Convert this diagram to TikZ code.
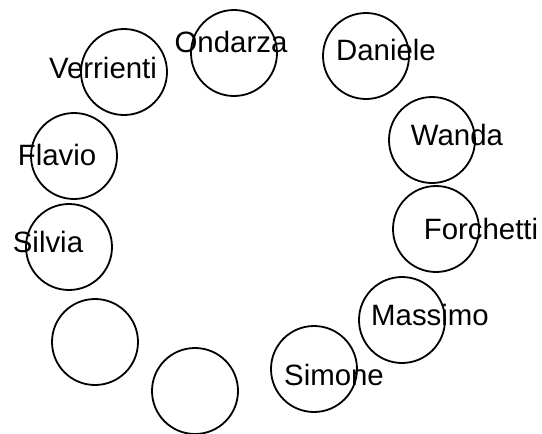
\documentclass[tikz,border=0pt]{standalone}
\usepackage{fontspec}
\setmainfont{Liberation Sans}
\begin{document}
\begin{tikzpicture}[x=0.5pt,y=-0.5pt,
  ring/.style={draw,circle,minimum size=43pt,inner sep=0pt,line width=0.9pt},
  lbl/.style={font=\fontsize{14.7}{16}\selectfont,inner sep=0pt}]
\useasboundingbox (0,0) rectangle (542,434);
\node[ring] (verrienti) at (124,72) {};
\node[ring] (ondarza) at (234,53) {};
\node[ring] (daniele) at (366,56) {};
\node[ring] (wanda) at (432,140) {};
\node[ring] (flavio) at (74,156) {};
\node[ring] (silvia) at (69,247) {};
\node[ring] (empty1) at (95,342) {};
\node[ring] (empty2) at (195,391) {};
\node[ring] (forchetti) at (436,229) {};
\node[ring] (massimo) at (402,320) {};
\node[ring] (simone) at (314,369) {};
\node[lbl] (tverrienti) at (103,68) {Verrienti};
\node[lbl] (tondarza) at (231,42) {Ondarza};
\node[lbl] (tdaniele) at (386,50) {Daniele};
\node[lbl] (twanda) at (457,135) {Wanda};
\node[lbl] (tflavio) at (57,155) {Flavio};
\node[lbl] (tsilvia) at (48,242) {Silvia};
\node[lbl] (tforchetti) at (481,229) {Forchetti};
\node[lbl] (tmassimo) at (430,315) {Massimo};
\node[lbl] (tsimone) at (334,375) {Simone};
\end{tikzpicture}
\end{document}
